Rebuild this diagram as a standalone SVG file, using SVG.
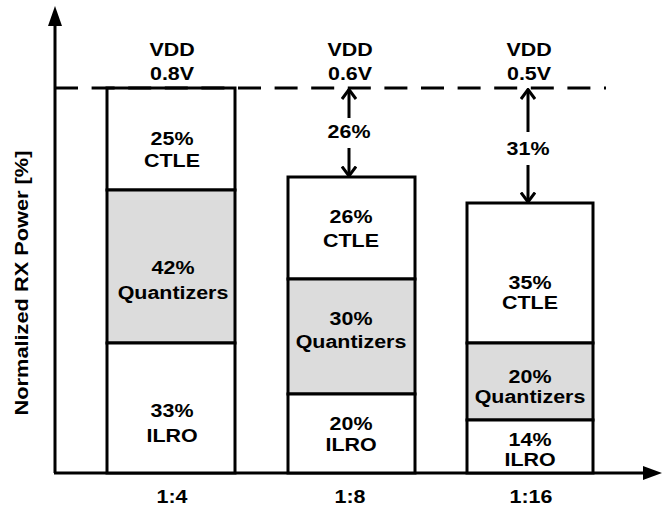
<svg xmlns="http://www.w3.org/2000/svg" width="672" height="508" viewBox="0 0 672 508">
<defs>
<style>
text{font-family:"Liberation Sans",Arial,sans-serif;font-weight:bold;font-size:18px;fill:#000;text-anchor:middle}
.seg{stroke:#000;stroke-width:3}
.w{fill:#fff}
.g{fill:#dcdcdc}
.ax{stroke:#000;stroke-width:3;fill:none}
.arr{stroke:#000;stroke-width:3;fill:none}
</style>
<marker id="chev" viewBox="0 0 12 16" refX="10.5" refY="8" markerWidth="12" markerHeight="16" markerUnits="userSpaceOnUse" orient="auto">
<path d="M1,1 L10.5,8 L1,15" fill="none" stroke="#000" stroke-width="3"/>
</marker>
</defs>
<rect width="672" height="508" fill="#fff"/>

<g id="axes">
<line class="ax" x1="55" y1="473" x2="55" y2="24"/>
<polygon points="55,6 48,26 62,26" fill="#000"/>
<line class="ax" x1="54" y1="473" x2="645" y2="473"/>
<polygon points="662,473 643,466 643,480" fill="#000"/>
<text transform="translate(28,283) rotate(-90) scale(1.21,1)">Normalized RX Power [%]</text>
</g>

<g id="bar1">
<rect class="seg w" x="107" y="88" width="128" height="102"/>
<rect class="seg g" x="107" y="190" width="128" height="153"/>
<rect class="seg w" x="107" y="343" width="128" height="130"/>
<text transform="translate(172,145) scale(1.19,1)">25%</text>
<text transform="translate(172,167) scale(1.19,1)">CTLE</text>
<text transform="translate(173,274) scale(1.19,1)">42%</text>
<text transform="translate(173,299) scale(1.19,1)">Quantizers</text>
<text transform="translate(172,417) scale(1.19,1)">33%</text>
<text transform="translate(172,442) scale(1.19,1)">ILRO</text>
<text transform="translate(172,56) scale(1.19,1)">VDD</text>
<text transform="translate(172,80) scale(1.19,1)">0.8V</text>
<text transform="translate(172,503) scale(1.19,1)">1:4</text>
</g>

<g id="bar2">
<rect class="seg w" x="288" y="177" width="127" height="102"/>
<rect class="seg g" x="288" y="279" width="127" height="115"/>
<rect class="seg w" x="288" y="394" width="127" height="79"/>
<text transform="translate(351,223) scale(1.19,1)">26%</text>
<text transform="translate(351,247) scale(1.19,1)">CTLE</text>
<text transform="translate(351,325) scale(1.19,1)">30%</text>
<text transform="translate(351,348) scale(1.19,1)">Quantizers</text>
<text transform="translate(351,430) scale(1.19,1)">20%</text>
<text transform="translate(351,451) scale(1.19,1)">ILRO</text>
<text transform="translate(350,56) scale(1.19,1)">VDD</text>
<text transform="translate(350,80) scale(1.19,1)">0.6V</text>
<text transform="translate(350,503) scale(1.19,1)">1:8</text>
</g>

<g id="bar3">
<rect class="seg w" x="467" y="203" width="126" height="140"/>
<rect class="seg g" x="467" y="343" width="126" height="77"/>
<rect class="seg w" x="467" y="420" width="126" height="53"/>
<text transform="translate(530,289) scale(1.19,1)">35%</text>
<text transform="translate(530,309) scale(1.19,1)">CTLE</text>
<text transform="translate(530,383) scale(1.19,1)">20%</text>
<text transform="translate(530,403) scale(1.19,1)">Quantizers</text>
<text transform="translate(530,446) scale(1.19,1)">14%</text>
<text transform="translate(530,466) scale(1.19,1)">ILRO</text>
<text transform="translate(529,56) scale(1.19,1)">VDD</text>
<text transform="translate(529,80) scale(1.19,1)">0.5V</text>
<text transform="translate(531,503) scale(1.19,1)">1:16</text>
</g>

<g id="connectors">
<line x1="55" y1="88" x2="606" y2="88" stroke="#000" stroke-width="3" stroke-dasharray="23 13.6"/>
<line class="arr" x1="349" y1="118" x2="349" y2="89.5" marker-end="url(#chev)"/>
<line class="arr" x1="349" y1="148" x2="349" y2="176" marker-end="url(#chev)"/>
<text transform="translate(349,138) scale(1.19,1)">26%</text>
<line class="arr" x1="528" y1="132" x2="528" y2="89.5" marker-end="url(#chev)"/>
<line class="arr" x1="528" y1="165" x2="528" y2="202" marker-end="url(#chev)"/>
<text transform="translate(528,155) scale(1.19,1)">31%</text>
</g>
</svg>
